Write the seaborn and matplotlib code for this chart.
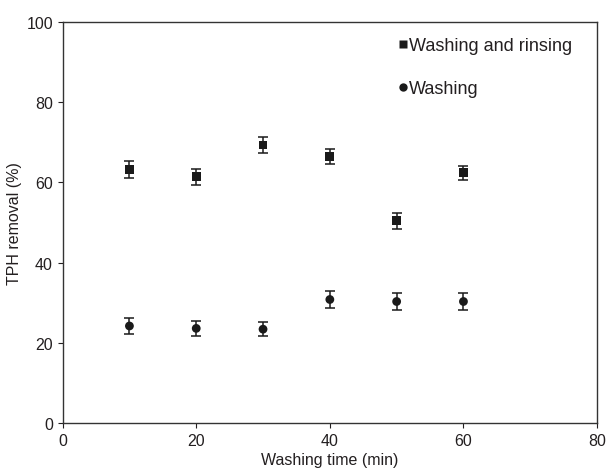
import numpy as np
import pandas as pd
import matplotlib
matplotlib.use('Agg')
import matplotlib.pyplot as plt
import seaborn as sns

# Data
time_min = [10, 20, 30, 40, 50, 60]
wash_rinse = [63.2, 61.4, 69.3, 66.5, 50.4, 62.4]
wash_rinse_err = [2.0, 2.0, 2.0, 1.8, 2.0, 1.8]
wash = [24.2, 23.6, 23.4, 30.8, 30.3, 30.3]
wash_err = [2.0, 1.8, 1.8, 2.0, 2.0, 2.0]

df = pd.DataFrame({
    'time': time_min * 2,
    'removal': wash_rinse + wash,
    'err': wash_rinse_err + wash_err,
    'series': ['Washing and rinsing'] * 6 + ['Washing'] * 6,
})

sns.set_style('ticks')
plt.rcParams['font.family'] = ['Liberation Sans', 'DejaVu Sans']

fig, ax = plt.subplots(figsize=(6.08, 4.77), dpi=100)
fig.subplots_adjust(left=0.103, right=0.982, top=0.952, bottom=0.111)

# Error bars first, then the markers on top
for name in ['Washing and rinsing', 'Washing']:
    sub = df[df['series'] == name]
    ax.errorbar(sub['time'], sub['removal'], yerr=sub['err'], fmt='none',
                ecolor='#1a1a1a', elinewidth=1.1, capsize=3.6, capthick=1.1, zorder=2)

sns.scatterplot(data=df, x='time', y='removal', hue='series', style='series',
                markers={'Washing and rinsing': 's', 'Washing': 'o'},
                palette={'Washing and rinsing': '#1a1a1a', 'Washing': '#1a1a1a'},
                s=40, edgecolor='none', ax=ax, zorder=3)

ax.set_xlim(0, 80)
ax.set_ylim(0, 100)
ax.set_xticks([0, 20, 40, 60, 80])
ax.set_yticks([0, 20, 40, 60, 80, 100])
ax.set_xlabel('Washing time (min)', fontsize=11.5, color='#231f20', labelpad=3)
ax.set_ylabel('TPH removal (%)', fontsize=11.5, color='#231f20', labelpad=3)
ax.tick_params(axis='both', labelsize=11.5, colors='#231f20', direction='out', length=3.5)
for sp in ax.spines.values():
    sp.set_color('#333333')
    sp.set_linewidth(1.0)

leg = ax.legend(loc='upper left', frameon=False, fontsize=13,
                handlelength=0.45, handletextpad=0.15, labelspacing=1.45,
                markerscale=0.95, borderaxespad=0, bbox_to_anchor=(0.615, 0.98))
for t in leg.get_texts():
    t.set_color('#231f20')

fig.savefig('out.png', dpi=100)
